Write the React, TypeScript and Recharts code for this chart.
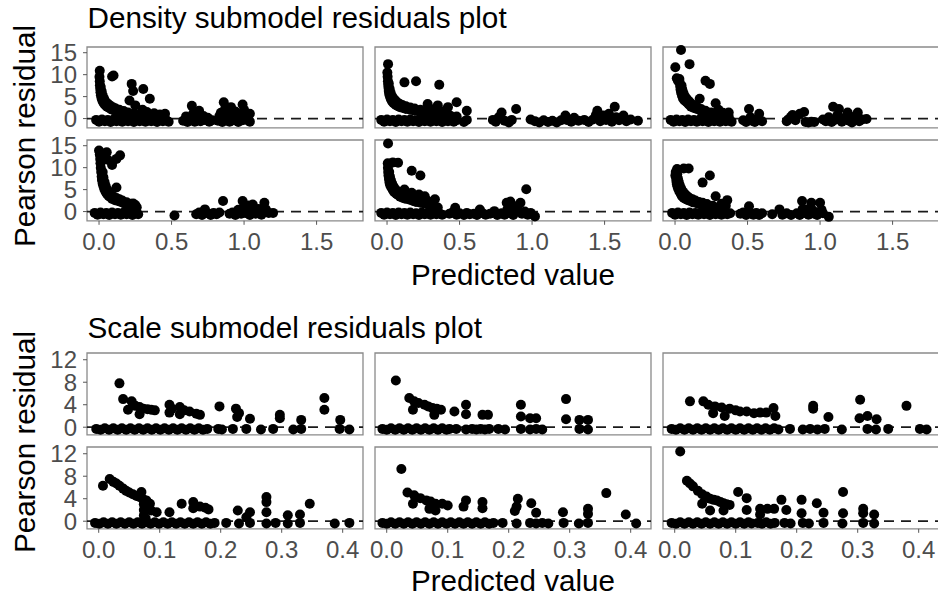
import { ScatterChart, Scatter, XAxis, YAxis, ReferenceLine, ReferenceArea } from 'recharts';

type Pt = [number, number];

// axis ticks
const DENSITY_X_TICKS = [0, 0.5, 1, 1.5];
const DENSITY_Y_TICKS = [0, 5, 10, 15];
const SCALE_X_TICKS = [0, 0.1, 0.2, 0.3, 0.4];
const SCALE_Y_TICKS = [0, 4, 8, 12];

const TITLES = ['Density submodel residuals plot', 'Scale submodel residuals plot'];
const X_TITLE = 'Predicted value';
const Y_TITLE = 'Pearson residual';

// density submodel, row 1
const densityR1C1: Pt[] = [
  [-0.02, -0.3], [0, -0.7], [0.02, -0.2], [0.04, -0.6], [0.06, -0.3], [0.08, -0.8], [0.1, -0.2], [0.12, -0.6],
  [0.14, -0.3], [0.16, -0.7], [0.18, -0.2], [0.2, -0.6], [0.22, -0.4], [0.24, -0.8], [0.26, -0.2], [0.28, -0.6],
  [0.3, -0.3], [0.32, -0.7], [0.34, -0.2], [0.36, -0.6], [0.38, -0.4], [0.4, -0.8], [0.42, -0.3], [0.44, -0.6],
  [0.46, -0.2], [0.48, -0.7],
  [0.003, 9.5], [0.005, 8.5], [0.006, 7.6], [0.008, 6.8], [0.01, 6], [0.013, 5.3], [0.017, 4.7], [0.022, 4.2],
  [0.028, 3.8], [0.035, 3.4], [0.045, 3], [0.055, 2.7], [0.07, 2.4], [0.085, 2.1], [0.1, 1.9], [0.12, 1.7],
  [0.14, 1.5], [0.16, 1.3], [0.19, 1.1], [0.22, 0.9], [0.25, 0.75], [0.29, 0.55], [0.33, 0.4], [0.37, 0.3],
  [0.012, 7.2], [0.018, 6.2], [0.025, 5.3], [0.035, 4.5], [0.045, 3.9], [0.06, 3.4], [0.075, 3], [0.095, 2.6],
  [0.115, 2.3], [0.14, 2], [0.17, 1.7], [0.2, 1.4], [0.24, 1.1], [0.28, 0.9], [0.32, 0.7],
  [0.005, 10.9], [0.1, 9.8], [0.09, 9.6], [0.225, 7.9], [0.305, 6.75], [0.235, 6.3], [0.21, 4.1], [0.35, 4.5],
  [0.25, 3], [0.3, 2], [0.33, 1.5], [0.38, 1.2], [0.42, 0.9], [0.455, 1.1],
  [0.58, -0.5], [0.6, 0.5], [0.61, -0.8], [0.63, -0.3], [0.64, 2.9], [0.65, 1.2], [0.66, -0.7], [0.68, -0.2],
  [0.69, 1.8], [0.7, -0.6], [0.72, 0.6], [0.73, -0.3], [0.75, 0.2], [0.76, -0.7], [0.78, -0.4],
  [0.82, -0.5], [0.83, 0.6], [0.84, 1.3], [0.85, -0.8], [0.86, 3.7], [0.87, 2.3], [0.88, -0.3], [0.89, 1],
  [0.9, -0.7], [0.91, 2.6], [0.92, 0.4], [0.93, -0.4], [0.94, 1.6], [0.96, -0.8], [0.97, 0.8], [0.99, 3.2],
  [0.99, -0.4], [1.0, 2], [1.01, 0.5], [1.02, -0.3], [1.04, 1.1], [1.04, -0.7],
];

const densityR1C2: Pt[] = [
  [-0.04, -0.3], [-0.02, -0.7], [0, -0.2], [0.02, -0.6], [0.04, -0.3], [0.06, -0.8], [0.08, -0.2], [0.1, -0.6],
  [0.12, -0.3], [0.14, -0.7], [0.16, -0.2], [0.18, -0.6], [0.2, -0.4], [0.22, -0.8], [0.24, -0.2], [0.26, -0.6],
  [0.28, -0.3], [0.3, -0.7], [0.32, -0.2], [0.34, -0.6], [0.36, -0.4], [0.38, -0.8], [0.4, -0.3], [0.42, -0.6],
  [0.44, -0.2], [0.46, -0.7], [0.48, -0.4], [0.53, -0.8], [0.55, -0.3],
  [0.002, 10.5], [0.004, 9.5], [0.006, 8.5], [0.008, 7.7], [0.01, 7], [0.012, 6.3], [0.015, 5.6], [0.02, 5],
  [0.027, 4.4], [0.035, 3.9], [0.045, 3.5], [0.06, 3.1], [0.075, 2.8], [0.09, 2.6], [0.11, 2.4], [0.13, 2.2],
  [0.16, 2], [0.19, 1.8], [0.22, 1.6], [0.26, 1.4], [0.3, 1.2], [0.34, 1], [0.39, 0.8], [0.44, 0.6], [0.48, 0.45],
  [0.012, 8], [0.018, 6.8], [0.025, 5.9], [0.035, 5.1], [0.05, 4.4], [0.065, 3.9], [0.085, 3.4], [0.105, 3.1],
  [0.13, 2.8], [0.16, 2.5], [0.19, 2.3], [0.23, 2], [0.27, 1.8], [0.32, 1.5], [0.37, 1.2], [0.42, 0.95],
  [0.007, 12.4], [0.12, 8.25], [0.2, 8.5], [0.36, 7.7], [0.28, 3.3], [0.35, 3], [0.42, 2.6], [0.48, 3.7],
  [0.55, 1.8], [0.3, 2.2], [0.4, 1.8],
  [0.73, -0.3], [0.75, -0.7], [0.77, 0.3], [0.79, 1.4], [0.81, -0.5], [0.84, -0.9], [0.86, -0.3], [0.89, 2.2],
  [0.99, -0.2], [1.02, -0.6], [1.05, -0.9], [1.08, -0.4], [1.11, -0.8], [1.14, -0.5], [1.17, -0.9], [1.2, -0.4],
  [1.23, 0.7], [1.24, -0.3], [1.27, -0.7], [1.29, 0.2], [1.32, -0.5], [1.36, -0.3], [1.39, -0.8], [1.42, -0.2],
  [1.44, 0.8], [1.45, 1.8], [1.47, -0.6], [1.49, 0.7], [1.51, -0.3], [1.53, 1.1], [1.55, -0.7], [1.57, 2.7],
  [1.58, 0.3], [1.6, -0.4], [1.63, 0.7], [1.65, -0.6], [1.68, -0.2], [1.73, -0.5],
];

const densityR1C3: Pt[] = [
  [-0.03, -0.3], [-0.01, -0.7], [0.01, -0.2], [0.03, -0.6], [0.05, -0.3], [0.07, -0.8], [0.09, -0.2], [0.11, -0.6],
  [0.13, -0.3], [0.15, -0.7], [0.17, -0.2], [0.19, -0.6], [0.21, -0.4], [0.23, -0.8], [0.25, -0.2], [0.27, -0.6],
  [0.29, -0.3], [0.31, -0.7], [0.33, -0.2], [0.35, -0.6], [0.37, -0.4], [0.39, -0.7],
  [0.012, 9.2], [0.02, 8.6], [0.03, 9], [0.032, 8.2], [0.035, 7.4], [0.038, 6.6], [0.042, 5.9], [0.048, 5.2],
  [0.055, 4.6], [0.065, 4.1], [0.08, 3.7], [0.095, 3.2], [0.11, 2.7], [0.13, 2.4], [0.15, 2.2], [0.18, 1.7],
  [0.21, 1.35], [0.24, 1.07], [0.28, 0.8], [0.32, 0.6], [0.37, 0.45],
  [0.045, 7.5], [0.05, 6.6], [0.058, 5.8], [0.068, 5.1], [0.08, 4.5], [0.095, 4], [0.11, 3.5], [0.13, 3],
  [0.15, 2.7], [0.18, 2.2], [0.21, 1.8], [0.25, 1.4], [0.29, 1.1],
  [0.041, 15.6], [0.002, 11.7], [0.1, 12.4], [0.21, 8.6], [0.24, 7.9], [0.17, 4.5], [0.28, 3.5], [0.37, 1.4],
  [0.3, 2], [0.33, 1.3],
  [0.47, -0.4], [0.49, -0.8], [0.51, 2.2], [0.52, 0.3], [0.53, -0.5], [0.55, -0.8], [0.57, -0.3], [0.58, 1.1], [0.6, -0.6],
  [0.77, -0.6], [0.78, -0.2], [0.8, 0.4], [0.81, 0.8], [0.83, -0.4], [0.86, 1.1], [0.89, 1.5], [0.9, -0.8],
  [0.92, -0.9], [0.94, -0.7], [0.96, -0.8],
  [1.02, -0.2], [1.04, -0.6], [1.06, 0.3], [1.08, -0.8], [1.09, 2.7], [1.1, -0.3], [1.12, 0.8], [1.13, 2.2],
  [1.15, -0.7], [1.17, 0.2], [1.19, 1.4], [1.2, -0.5], [1.22, -0.9], [1.24, 0.5], [1.26, 1.4], [1.27, -0.6],
  [1.29, -0.2], [1.32, -0.1],
];

// density submodel, row 2
const densityR2C1: Pt[] = [
  [-0.03, -0.3], [-0.01, -0.7], [0.01, -0.2], [0.03, -0.6], [0.05, -0.3], [0.07, -0.8], [0.09, -0.2], [0.11, -0.6],
  [0.13, -0.3], [0.15, -0.7], [0.17, -0.2], [0.19, -0.6], [0.21, -0.4], [0.23, -0.8], [0.25, -0.2], [0.27, -0.6],
  [0, 13.9], [0.053, 13.5], [0.145, 12.8], [0.12, 12], [0.09, 10.6], [0.03, 12.3], [0.06, 11.8], [0.015, 13.2],
  [0.005, 13], [0.008, 12], [0.01, 11], [0.012, 10], [0.015, 9], [0.018, 8], [0.02, 7.2], [0.025, 6.4],
  [0.03, 5.8], [0.037, 5.1], [0.045, 4.5], [0.055, 4], [0.065, 3.6], [0.076, 3.3], [0.09, 2.9], [0.11, 2.6],
  [0.13, 2.4], [0.15, 2.2], [0.17, 1.9], [0.19, 1.7], [0.21, 1.5], [0.24, 1.2], [0.26, 1],
  [0.025, 9], [0.03, 7.8], [0.038, 6.7], [0.046, 5.8], [0.056, 5], [0.068, 4.4], [0.082, 3.9], [0.1, 3.4],
  [0.12, 3.1], [0.14, 2.8], [0.16, 2.5], [0.19, 2.1], [0.22, 1.8], [0.25, 1.5],
  [0.12, 5.5], [0.236, 1.85], [0.52, -0.9],
  [0.67, -0.6], [0.69, -0.2], [0.71, -0.8], [0.73, 0.5], [0.75, -0.4], [0.77, -0.8], [0.79, -0.3], [0.81, -0.6],
  [0.83, -0.2], [0.855, 2.4],
  [0.9, -0.5], [0.92, -0.2], [0.94, -0.8], [0.96, 0.4], [0.98, -0.5], [0.99, 2.4], [1.0, 0.9], [1.01, -0.3],
  [1.03, 1.4], [1.04, -0.8], [1.06, 1.6], [1.07, 0.3], [1.08, -0.5], [1.1, 0.6], [1.12, -0.7], [1.14, 2],
  [1.15, 0.5], [1.17, -0.3], [1.2, -0.3],
];

const densityR2C2: Pt[] = [
  [-0.04, -0.3], [-0.02, -0.7], [0, -0.2], [0.02, -0.6], [0.04, -0.3], [0.06, -0.8], [0.08, -0.2], [0.1, -0.6],
  [0.12, -0.3], [0.14, -0.7], [0.16, -0.2], [0.18, -0.6], [0.2, -0.4], [0.22, -0.8], [0.24, -0.2], [0.26, -0.6],
  [0.28, -0.3], [0.3, -0.7], [0.32, -0.2], [0.34, -0.6], [0.36, -0.4], [0.38, -0.7],
  [0.007, 15.5], [0.04, 11.2], [0.076, 11.1], [0.17, 9.3], [0.23, 8.2],
  [0.005, 11], [0.006, 10], [0.008, 9], [0.01, 8.2], [0.013, 7.4], [0.017, 6.6], [0.022, 6], [0.03, 5.5],
  [0.04, 4.9], [0.05, 4.4], [0.065, 4], [0.076, 3.8], [0.09, 3.4], [0.11, 3.1], [0.13, 2.9], [0.157, 2.7],
  [0.18, 2.4], [0.2, 2.2], [0.23, 2], [0.25, 1.9], [0.28, 1.6], [0.3, 1.4], [0.32, 1.2], [0.35, 0.9],
  [0.015, 9], [0.02, 8], [0.027, 7.1], [0.035, 6.4], [0.045, 5.7], [0.058, 5.1], [0.072, 4.6], [0.088, 4.2],
  [0.105, 3.8], [0.125, 3.5], [0.15, 3.2], [0.18, 2.9], [0.21, 2.6], [0.24, 2.4], [0.27, 2.1], [0.31, 1.8],
  [0.17, 4.3], [0.22, 3.9], [0.26, 3.5], [0.33, 2.8], [0.12, 5], [0.28, 2.4],
  [0.43, -0.5], [0.45, -0.2], [0.47, 0.85], [0.48, -0.7], [0.5, -0.4], [0.53, -0.8], [0.55, -0.3], [0.57, -0.6],
  [0.6, -0.5], [0.62, -0.8], [0.64, 0.46], [0.66, -0.4], [0.68, -0.7], [0.71, -0.5], [0.74, 0.1], [0.76, -0.8],
  [0.79, -0.4], [0.81, -0.7], [0.825, 2], [0.83, 0.5], [0.84, -0.3], [0.85, 2.3], [0.87, -0.8], [0.88, 1.2],
  [0.9, 0.5], [0.92, 2], [0.93, -0.5], [0.95, 0], [0.96, 5.1], [0.97, -0.7], [0.99, -0.3], [1.02, -1.1],
];

const densityR2C3: Pt[] = [
  [-0.02, -0.3], [0, -0.7], [0.02, -0.2], [0.04, -0.6], [0.06, -0.3], [0.08, -0.8], [0.1, -0.2], [0.12, -0.6],
  [0.14, -0.3], [0.16, -0.7], [0.18, -0.2], [0.2, -0.6], [0.22, -0.4], [0.24, -0.8], [0.26, -0.2], [0.28, -0.6],
  [0.3, -0.3], [0.32, -0.7], [0.34, -0.2], [0.36, -0.6], [0.38, -0.4],
  [0.014, 9.7], [0.06, 9.8], [0.094, 9.8], [0.002, 8.2], [0.005, 9], [0.008, 7.5], [0.01, 6.8], [0.013, 6.2],
  [0.017, 5.7], [0.022, 5.2], [0.03, 4.6], [0.04, 4], [0.048, 3.5], [0.06, 3.1], [0.075, 2.8], [0.09, 2.6],
  [0.105, 2.4], [0.125, 2.1], [0.15, 1.9], [0.17, 1.7], [0.19, 1.6], [0.22, 1.3], [0.25, 1], [0.27, 0.85], [0.3, 0.7],
  [0.015, 8.5], [0.02, 7.5], [0.026, 6.7], [0.034, 5.9], [0.043, 5.2], [0.055, 4.5], [0.068, 4], [0.085, 3.5],
  [0.1, 3.1], [0.12, 2.8], [0.14, 2.5], [0.165, 2.2], [0.19, 2], [0.22, 1.7], [0.26, 1.3],
  [0.19, 6.6], [0.24, 8.2], [0.28, 3.5], [0.36, 2.6], [0.35, 1.3], [0.32, 1.8],
  [0.45, -0.5], [0.47, -0.2], [0.49, -0.8], [0.51, 1.2], [0.52, -0.4], [0.54, -0.7], [0.56, -0.3], [0.58, -0.8], [0.6, -0.4],
  [0.67, -0.6], [0.72, 0.5], [0.74, -0.7], [0.77, -0.4], [0.8, -0.8],
  [0.84, -0.4], [0.86, -0.8], [0.876, 2.4], [0.88, 0.6], [0.89, -0.3], [0.91, 0.5], [0.92, -0.7], [0.94, 2],
  [0.95, 0.3], [0.96, -0.5], [0.98, -0.8], [1.0, 2], [1.01, 0.4], [1.02, -0.4], [1.06, -1.2],
];

// scale submodel, row 1
const scaleR1C1: Pt[] = [
  [-0.004, -0.3], [0.003, -0.45], [0.01, -0.2], [0.017, -0.45], [0.024, -0.2], [0.031, -0.45], [0.038, -0.2],
  [0.045, -0.45], [0.052, -0.2], [0.059, -0.45], [0.066, -0.2], [0.073, -0.45], [0.08, -0.2], [0.087, -0.45],
  [0.094, -0.2], [0.101, -0.45], [0.108, -0.2], [0.115, -0.45], [0.122, -0.2], [0.129, -0.45], [0.136, -0.2],
  [0.143, -0.45], [0.15, -0.2], [0.157, -0.45], [0.164, -0.2], [0.171, -0.45], [0.178, -0.3],
  [0.196, -0.3], [0.202, -0.4], [0.22, -0.3], [0.242, -0.3], [0.266, -0.4], [0.286, -0.3], [0.319, -0.4],
  [0.332, -0.3], [0.395, -0.3], [0.411, -0.4],
  [0.034, 7.8], [0.04, 5], [0.054, 4.6], [0.048, 3.1], [0.06, 3.8], [0.067, 3.6], [0.073, 3.3], [0.08, 3.2],
  [0.086, 3.1], [0.092, 3], [0.067, 2.3], [0.116, 4], [0.116, 2.6], [0.12, 3.3], [0.133, 3.6], [0.133, 2.3],
  [0.14, 3], [0.149, 2.8], [0.16, 2.4], [0.166, 2.2], [0.198, 3.7], [0.225, 3.3], [0.227, 1.8], [0.23, 2.5],
  [0.248, 1.5], [0.297, 2.2], [0.297, 1.6], [0.332, 1.3], [0.37, 5.2], [0.37, 3.1], [0.396, 1.3],
];

const scaleR1C2: Pt[] = [
  [-0.007, -0.3], [0.0, -0.45], [0.007, -0.2], [0.014, -0.45], [0.021, -0.2], [0.028, -0.45], [0.035, -0.2],
  [0.042, -0.45], [0.049, -0.2], [0.056, -0.45], [0.063, -0.2], [0.07, -0.45], [0.077, -0.2], [0.084, -0.45],
  [0.091, -0.2], [0.098, -0.45], [0.103, -0.3],
  [0.114, -0.3], [0.13, -0.4], [0.14, -0.3], [0.147, -0.4], [0.154, -0.3], [0.161, -0.4], [0.168, -0.3],
  [0.183, -0.3], [0.194, -0.4], [0.22, -0.3], [0.235, -0.4], [0.245, -0.3], [0.255, -0.4], [0.316, -0.3], [0.33, -0.4],
  [0.015, 8.3], [0.037, 5.2], [0.045, 4.6], [0.052, 4.3], [0.062, 4], [0.068, 3.7], [0.075, 3.4], [0.082, 3.3],
  [0.089, 3.1], [0.043, 3.1], [0.078, 2.2], [0.111, 2.8], [0.13, 4], [0.13, 2.3], [0.157, 2.2], [0.166, 2.2],
  [0.22, 4], [0.22, 1.9], [0.235, 1.6], [0.245, 1.6], [0.294, 5], [0.294, 1.4], [0.316, 1.3], [0.33, 1.3],
];

const scaleR1C3: Pt[] = [
  [-0.005, -0.3], [0.002, -0.45], [0.009, -0.2], [0.016, -0.45], [0.023, -0.2], [0.03, -0.45], [0.037, -0.2],
  [0.044, -0.45], [0.051, -0.2], [0.058, -0.45], [0.065, -0.2], [0.072, -0.45], [0.079, -0.2], [0.086, -0.45],
  [0.093, -0.2], [0.1, -0.45], [0.107, -0.2], [0.114, -0.45], [0.121, -0.2], [0.128, -0.45], [0.135, -0.2],
  [0.142, -0.45], [0.149, -0.2], [0.156, -0.45], [0.163, -0.2], [0.17, -0.4],
  [0.189, -0.3], [0.21, -0.4], [0.222, -0.3], [0.234, -0.4], [0.246, -0.3], [0.274, -0.4], [0.316, -0.3],
  [0.33, -0.4], [0.35, -0.3], [0.402, -0.3], [0.413, -0.4],
  [0.025, 4.6], [0.047, 4.6], [0.055, 4], [0.063, 2.5], [0.066, 3.7], [0.077, 3.5], [0.082, 2], [0.09, 3.3],
  [0.1, 3], [0.107, 2.8], [0.118, 2.8], [0.13, 2.5], [0.14, 2.6], [0.15, 2.6], [0.162, 3.4], [0.165, 2],
  [0.227, 3.8], [0.227, 3.3], [0.252, 1.8], [0.304, 4.9], [0.303, 1.6], [0.316, 2], [0.331, 1.4], [0.38, 3.8],
];

// scale submodel, row 2
const scaleR2C1: Pt[] = [
  [-0.006, -0.3], [0.001, -0.45], [0.008, -0.2], [0.015, -0.45], [0.022, -0.2], [0.029, -0.45], [0.036, -0.2],
  [0.043, -0.45], [0.05, -0.2], [0.057, -0.45], [0.064, -0.2], [0.071, -0.45], [0.078, -0.2], [0.085, -0.45],
  [0.092, -0.2], [0.099, -0.45], [0.106, -0.2], [0.113, -0.45], [0.12, -0.2], [0.127, -0.45], [0.134, -0.2],
  [0.141, -0.45], [0.148, -0.2], [0.155, -0.45], [0.162, -0.2], [0.169, -0.45], [0.176, -0.2], [0.183, -0.45], [0.19, -0.3],
  [0.209, -0.3], [0.23, -0.4], [0.248, -0.3], [0.275, -0.4], [0.29, -0.3], [0.31, -0.4], [0.33, -0.3],
  [0.387, -0.4], [0.411, -0.3],
  [0.007, 6.3], [0.018, 7.5], [0.024, 7], [0.029, 6.7], [0.034, 6.3], [0.04, 5.8], [0.045, 5.4], [0.05, 5.1],
  [0.056, 4.8], [0.062, 4.5], [0.067, 4.3], [0.072, 4], [0.078, 3.7], [0.07, 5.2], [0.084, 3.1], [0.086, 1.9],
  [0.095, 1.6], [0.074, 3], [0.074, 2], [0.074, 1], [0.077, 0.5], [0.116, 1.6], [0.136, 3.1], [0.155, 3.4],
  [0.155, 2.3], [0.166, 2.6], [0.175, 2.4], [0.18, 2.1], [0.228, 1.9], [0.248, 1.6], [0.242, 0.7], [0.275, 4.3],
  [0.275, 3.4], [0.275, 1.6], [0.31, 1.05], [0.33, 1.2], [0.346, 3.1],
];

const scaleR2C2: Pt[] = [
  [-0.007, -0.3], [0.0, -0.45], [0.007, -0.2], [0.014, -0.45], [0.021, -0.2], [0.028, -0.45], [0.035, -0.2],
  [0.042, -0.45], [0.049, -0.2], [0.056, -0.45], [0.063, -0.2], [0.07, -0.45], [0.077, -0.2], [0.084, -0.45],
  [0.091, -0.2], [0.098, -0.45], [0.105, -0.2], [0.112, -0.45], [0.119, -0.2], [0.126, -0.45], [0.133, -0.2],
  [0.14, -0.45], [0.147, -0.2], [0.154, -0.45], [0.161, -0.2], [0.168, -0.45], [0.175, -0.3],
  [0.19, -0.3], [0.213, -0.4], [0.235, -0.3], [0.245, -0.4], [0.255, -0.3], [0.265, -0.4], [0.29, -0.3],
  [0.315, -0.4], [0.33, -0.3],
  [0.024, 9.3], [0.034, 5.1], [0.045, 4.6], [0.043, 3.1], [0.055, 4.1], [0.065, 3.7], [0.072, 3.5], [0.08, 3.1],
  [0.07, 2.2], [0.091, 3.1], [0.1, 2.8], [0.08, 1.9], [0.13, 3.7], [0.126, 2.6], [0.157, 3.4], [0.157, 2.3],
  [0.215, 4], [0.213, 2.6], [0.21, 1.8], [0.237, 3.2], [0.245, 1.5], [0.289, 1.6], [0.33, 2.2], [0.33, 1.3],
  [0.36, 5], [0.392, 1.2], [0.409, -0.4],
];

const scaleR2C3: Pt[] = [
  [-0.005, -0.3], [0.002, -0.45], [0.009, -0.2], [0.016, -0.45], [0.023, -0.2], [0.03, -0.45], [0.037, -0.2],
  [0.044, -0.45], [0.051, -0.2], [0.058, -0.45], [0.065, -0.2], [0.072, -0.45], [0.079, -0.2], [0.086, -0.45],
  [0.093, -0.2], [0.1, -0.45], [0.107, -0.2], [0.114, -0.45], [0.121, -0.2], [0.126, -0.4],
  [0.136, -0.3], [0.143, -0.45], [0.15, -0.2], [0.157, -0.45], [0.164, -0.3], [0.18, -0.3], [0.19, -0.4],
  [0.21, -0.3], [0.22, -0.4], [0.244, -0.3], [0.275, -0.4], [0.309, -0.3], [0.327, -0.4],
  [0.009, 12.4], [0.02, 7.2], [0.025, 6.7], [0.03, 6.2], [0.038, 5.4], [0.045, 4.8], [0.052, 4.4], [0.058, 4],
  [0.064, 3.8], [0.069, 3.7], [0.075, 3.4], [0.08, 3.2], [0.085, 3], [0.09, 2.9], [0.058, 1.9], [0.08, 1.9],
  [0.045, 3.1], [0.104, 5.2], [0.118, 4.1], [0.118, 2], [0.14, 2.2], [0.152, 2.2], [0.163, 2.2], [0.14, 1.2],
  [0.175, 3.8], [0.183, 2], [0.208, 3.8], [0.208, 1.4], [0.233, 3.2], [0.244, 1.5], [0.276, 5.2], [0.276, 1.4],
  [0.309, 2.2], [0.309, 1.4], [0.327, 1.2],
];

const FONT = "'Liberation Sans', Arial, Helvetica, sans-serif";
const COL_LEFTS = [87.3, 375, 663.3];
const PANEL_W = 276;
const Y_AXIS_W = 60;
const X_AXIS_H = 40;
const PAD = 16; // room round each panel so tick labels are not clipped
const POINT_R = 5;

const sections = [
  {
    title: TITLES[0],
    panels: [densityR1C1, densityR1C2, densityR1C3, densityR2C1, densityR2C2, densityR2C3],
    xTicks: DENSITY_X_TICKS,
    yTicks: DENSITY_Y_TICKS,
    xDomain: [-0.083, 1.82],
    yDomain: [-2.1, 16.3],
    rowTops: [46.5, 140],
    panelH: 80.8,
    titleY: 28.3,
    xTitleY: 285,
    yTitleCenter: 136,
  },
  {
    title: TITLES[1],
    panels: [scaleR1C1, scaleR1C2, scaleR1C3, scaleR2C1, scaleR2C2, scaleR2C3],
    xTicks: SCALE_X_TICKS,
    yTicks: SCALE_Y_TICKS,
    xDomain: [-0.0192, 0.4333],
    yDomain: [-1.35, 13.2],
    rowTops: [352.7, 446.7],
    panelH: 81.8,
    titleY: 338.3,
    xTitleY: 591,
    yTitleCenter: 442,
  },
];

const Dot = (props: any) => <circle cx={props.cx} cy={props.cy} r={POINT_R} fill="#000" />;

function Panel({ pts, left, top, height, showX, showY, xDomain, yDomain, xTicks, yTicks }: any) {
  const yW = showY ? Y_AXIS_W : 0;
  const xH = showX ? X_AXIS_H : 0;
  const data = pts.map(([x, y]: Pt) => ({ x, y }));
  return (
    <div style={{ position: 'absolute', left: left - yW - PAD, top: top - PAD }}>
      <ScatterChart
        width={PANEL_W + yW + 2 * PAD}
        height={height + xH + 2 * PAD}
        margin={{ top: PAD, right: PAD, bottom: PAD, left: PAD }}
      >
        <XAxis
          type="number"
          dataKey="x"
          domain={xDomain}
          ticks={xTicks}
          hide={!showX}
          height={xH}
          interval={0}
          axisLine={false}
          tickSize={4}
          tickMargin={8}
          tickLine={{ stroke: '#555' }}
          tick={{ fontSize: 24, fill: '#4d4d4d' }}
          tickFormatter={(v: number) => v.toFixed(1)}
        />
        <YAxis
          type="number"
          dataKey="y"
          domain={yDomain}
          ticks={yTicks}
          hide={!showY}
          width={yW}
          interval={0}
          axisLine={false}
          tickSize={4}
          tickMargin={6}
          tickLine={{ stroke: '#555' }}
          tick={{ fontSize: 24, fill: '#4d4d4d' }}
        />
        <ReferenceArea
          x1={xDomain[0]}
          x2={xDomain[1]}
          y1={yDomain[0]}
          y2={yDomain[1]}
          fill="none"
          fillOpacity={0}
          stroke="#8a8a8a"
          strokeWidth={1.3}
          ifOverflow="visible"
        />
        <ReferenceLine y={0} stroke="#1a1a1a" strokeWidth={1.8} strokeDasharray="10 7" />
        <Scatter data={data} fill="#000" shape={Dot} isAnimationActive={false} />
      </ScatterChart>
    </div>
  );
}

export default function App() {
  return (
    <div
      style={{
        position: 'absolute',
        left: 0,
        top: 0,
        width: 938,
        height: 598,
        overflow: 'hidden',
        background: '#fff',
        fontFamily: FONT,
      }}
    >
      <svg width={938} height={598} style={{ position: 'absolute', left: 0, top: 0 }}>
        {sections.map((s) => (
          <g key={s.title} fontFamily={FONT}>
            <text x={87.5} y={s.titleY} fontSize={29.7} fill="#000">
              {s.title}
            </text>
            <text x={513} y={s.xTitleY} fontSize={29.6} fill="#000" textAnchor="middle">
              {X_TITLE}
            </text>
            <text
              transform={`translate(35, ${s.yTitleCenter}) rotate(-90)`}
              fontSize={29.6}
              fill="#000"
              textAnchor="middle"
            >
              {Y_TITLE}
            </text>
          </g>
        ))}
      </svg>
      {sections.map((s) =>
        s.panels.map((pts, i) => {
          const row = Math.floor(i / 3);
          const col = i % 3;
          return (
            <Panel
              key={`${s.title}-${i}`}
              pts={pts}
              left={COL_LEFTS[col]}
              top={s.rowTops[row]}
              height={s.panelH}
              showX={row === 1}
              showY={col === 0}
              xDomain={s.xDomain}
              yDomain={s.yDomain}
              xTicks={s.xTicks}
              yTicks={s.yTicks}
            />
          );
        })
      )}
    </div>
  );
}
